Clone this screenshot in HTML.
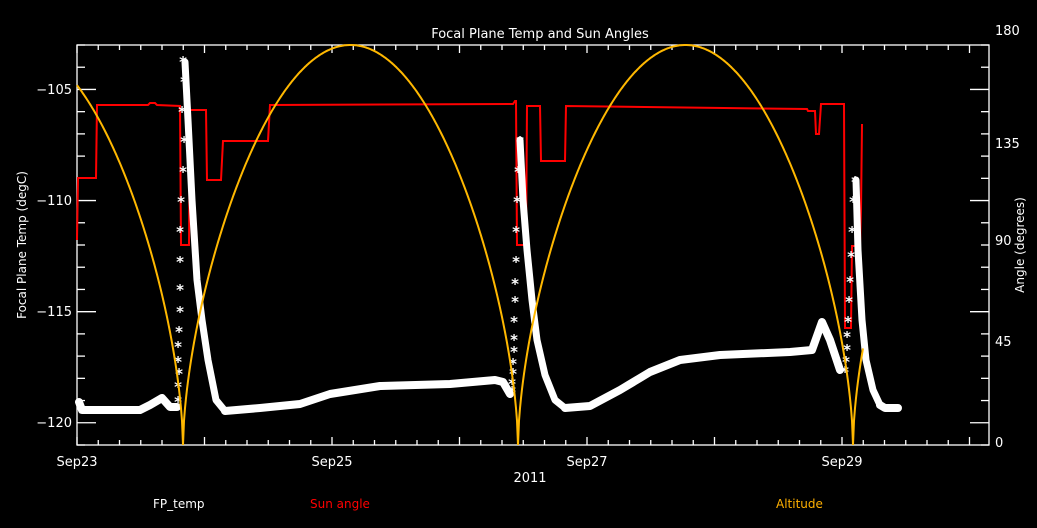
<!DOCTYPE html>
<html><head><meta charset="utf-8"><style>
html,body{margin:0;padding:0;background:#000;}
svg{display:block;font-family:"DejaVu Sans","Liberation Sans",sans-serif;}
</style></head><body>
<svg id="s" width="1037" height="528" viewBox="0 0 1037 528" xmlns="http://www.w3.org/2000/svg">
<rect width="1037" height="528" fill="#000"/>
<text x="540" y="38" fill="#fff" font-size="13" text-anchor="middle">Focal Plane Temp and Sun Angles</text>
<g id="ax" stroke="#fff" stroke-width="1.3" fill="none">
<rect x="77" y="45" width="912" height="400"/>
</g>
<g fill="#fff" font-size="13" text-anchor="end">
<text x="72" y="94">−105</text>
<text x="72" y="205">−110</text>
<text x="72" y="316">−115</text>
<text x="72" y="427">−120</text>
</g>
<g fill="#fff" font-size="13" text-anchor="start">
<text x="995" y="35">180</text>
<text x="995" y="148">135</text>
<text x="995" y="245">90</text>
<text x="995" y="346">45</text>
<text x="995" y="447">0</text>
</g>
<g fill="#fff" font-size="13" text-anchor="middle">
<text x="77" y="466">Sep23</text>
<text x="332" y="466">Sep25</text>
<text x="587" y="466">Sep27</text>
<text x="842" y="466">Sep29</text>
<text x="530" y="482">2011</text>
</g>
<text transform="translate(26,245) rotate(-90)" fill="#fff" font-size="12" text-anchor="middle">Focal Plane Temp (degC)</text>
<text transform="translate(1024,245) rotate(-90)" fill="#fff" font-size="12" text-anchor="middle">Angle (degrees)</text>
<text x="153" y="508" fill="#fff" font-size="12">FP_temp</text>
<text x="310" y="508" fill="#f00" font-size="12">Sun angle</text>
<text x="776" y="508" fill="#ffb000" font-size="12">Altitude</text>

<polyline fill="none" stroke="#f00" stroke-width="2" points="77,240 78,178 96,178 97,105 148,105 150,103 155,103 157,105 180,106 181,245 189,245 190,110 206,110 207,180 221,180 223,141 268,141 270,105 513,104 515,101 516,101 517,245 526,245 527,106 540,106 541,161 565,161 566,106 807,109 808,111 815,111 816,134 819,134 821,104 844,104 845,328 851,328 852,246 860,246 861,210 862,124"/>

<g fill="none" stroke="#fff" stroke-linejoin="round" stroke-linecap="round">
<polyline stroke-width="8" points="79,402 82,410 140,410 150,405 162,398 170,407 177,407"/>
<polyline stroke-width="7" points="185,62 188,120 192,200 197,280 202,320 208,360 216,400 225,411"/>
<polyline stroke-width="8" points="225,411 260,408 300,404 330,394 380,386 450,384 495,380 503,382 510,394"/>
<polyline stroke-width="7" points="520,140 523,200 527,250 532,300 537,340 545,375 555,400 565,408"/>
<polyline stroke-width="8" points="565,408 590,406 620,390 650,372 680,360 720,355 790,352 812,350 822,322 830,340 840,370"/>
<polyline stroke-width="7" points="856,180 858,250 862,320 866,360 873,390 880,405"/>
<polyline stroke-width="8" points="880,405 885,408 898,408"/>
</g>
<g id="stars" fill="#fff" font-weight="bold"></g>
<polyline id="alt" fill="none" stroke="#ffb800" stroke-width="2" points=""/>
</svg>
<script>
var ns="http://www.w3.org/2000/svg",ax=document.getElementById("ax");
function ln(x1,y1,x2,y2){var l=document.createElementNS(ns,"line");l.setAttribute("x1",x1);l.setAttribute("y1",y1);l.setAttribute("x2",x2);l.setAttribute("y2",y2);ax.appendChild(l);}
for(var k=0;k<=18;k++){var y=45+k*400/18;var maj=(k%5==2);var L=maj?19:8;ln(77,y,77+L,y);ln(989,y,989-L,y);}
for(var k=0;;k++){var x=77+k*21.25;if(x>989)break;var L=(k%6==0)?8:5;ln(x,445,x,445-L);ln(x,45,x,45+L);}
var p=[];for(var x=77;x<=863;x+=1){var t=(x-183)/335;var s=Math.abs(Math.sin(Math.PI*t));var a=180*Math.pow(s,0.6);p.push(x+","+(445-a*400/180).toFixed(1));}
document.getElementById("alt").setAttribute("points",p.join(" "));
var st=document.getElementById("stars");
function star(x,y){var r=document.createElementNS(ns,"text");r.setAttribute("x",x);r.setAttribute("y",y+7);r.setAttribute("font-size","15");r.setAttribute("text-anchor","middle");r.textContent="*";st.appendChild(r);}
[[183,60],[184,80],[182,110],[184,140],[183,170],[181,200],[180,230],[180,260],[180,288],[180,310],[179,330],[178,345],[178,360],[179,372],[178,385],[178,400]].forEach(function(a){star(a[0],a[1]);});
[[520,140],[518,170],[517,200],[516,230],[516,260],[515,282],[515,300],[514,320],[514,338],[514,350],[513,362],[513,372],[512,382],[512,390]].forEach(function(a){star(a[0],a[1]);});
[[855,180],[853,200],[852,230],[851,255],[850,280],[849,300],[848,320],[847,335],[847,348],[846,360],[845,370]].forEach(function(a){star(a[0],a[1]);});
</script>
</body></html>
